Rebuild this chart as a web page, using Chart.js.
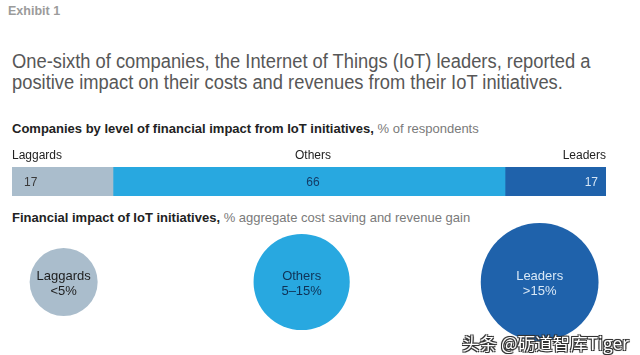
<!DOCTYPE html>
<html><head><meta charset="utf-8">
<script src="https://cdn.jsdelivr.net/npm/chart.js@4"></script>
<style>
html,body{margin:0;padding:0;background:#fff;width:640px;height:355px;overflow:hidden;font-family:"Liberation Sans",Arial,Helvetica,sans-serif;}
#wrap{position:relative;width:640px;height:355px;}
.t{position:absolute;white-space:nowrap;}
#exhibit{left:8px;top:4px;font-size:12.5px;font-weight:bold;color:#9b9b9b;}
#title{left:12px;top:51px;font-size:19.5px;color:#575757;line-height:21px;transform:scaleX(0.94);transform-origin:0 0;}
#sub1{left:12px;top:121px;font-size:13px;color:#222;}
#sub2{left:12px;top:210px;font-size:13px;color:#222;}
.b{font-weight:bold;}
.g{color:#7a7a7a;}
#barBox{position:absolute;left:0;top:140px;width:640px;height:70px;}
#bubBox{position:absolute;left:0;top:210px;width:640px;height:144px;}
#wm{left:462px;top:330px;font-family:"Noto Sans CJK SC",sans-serif;font-size:17.5px;color:#fff;
  text-shadow:-1px -1px 0 #333,1px -1px 0 #333,-1px 1px 0 #333,1px 1px 0 #333,0 0 2px #000;}
</style></head>
<body><div id="wrap">
<div class="t" id="exhibit">Exhibit 1</div>
<div class="t" id="title">One-sixth of companies, the Internet of Things (IoT) leaders, reported a<br>positive impact on their costs and revenues from their IoT initiatives.</div>
<div class="t" id="sub1"><span class="b">Companies by level of financial impact from IoT initiatives,</span> <span class="g">% of respondents</span></div>
<div id="barBox"><canvas id="bar"></canvas></div>
<div class="t" id="sub2"><span class="b">Financial impact of IoT initiatives,</span> <span class="g">% aggregate cost saving and revenue gain</span></div>
<div id="bubBox"><canvas id="bub"></canvas></div>
<div class="t" id="wm">头条 @砺道智库Tiger</div>
</div>
<script>
// ---- data ----
const categories = ['Laggards', 'Others', 'Leaders'];
const shareOfRespondents = [17, 66, 17];          // % of respondents
const impactRanges = ['<5%', '5–15%', '>15%'];    // % aggregate cost saving and revenue gain
const impactBubbleArea = [1, 2, 3];                // relative bubble area
// ---- styles ----
const fills = ['#aabdcc', '#28a8e0', '#1f62ab'];
const nameColors = ['#222222', '#222222', '#222222'];
const valueColors = ['#3a3a3a', '#143c66', '#d6e6f5'];
const bubbleTextColors = ['#1e1e1e', '#0f3256', '#d9e8f6'];
const FONT = '"Liberation Sans", Arial, Helvetica, sans-serif';

// ---- stacked bar ----
const barLabelPlugin = {
  id: 'barLabels',
  afterDatasetsDraw(chart) {
    const ctx = chart.ctx;
    ctx.save();
    ctx.textBaseline = 'middle';
    chart.data.datasets.forEach((ds, i) => {
      const el = chart.getDatasetMeta(i).data[0];
      const left = Math.min(el.base, el.x), right = Math.max(el.base, el.x);
      const cy = el.y;
      const top = cy - el.height / 2;
      let align, nx, vx;
      if (i === 0) { align = 'left'; nx = left; vx = left + 12; }
      else if (i === chart.data.datasets.length - 1) { align = 'right'; nx = right; vx = right - 8; }
      else { align = 'center'; nx = (left + right) / 2 + 4; vx = (left + right) / 2 + 4; }
      ctx.textAlign = align;
      ctx.font = '12px ' + FONT;
      ctx.fillStyle = nameColors[i];
      ctx.fillText(ds.label, nx, top - 11);
      ctx.fillStyle = valueColors[i];
      ctx.fillText(String(ds.data[0]), vx, cy + 1);
    });
    ctx.restore();
  }
};

new Chart(document.getElementById('bar'), {
  type: 'bar',
  data: {
    labels: ['Companies'],
    datasets: categories.map((c, i) => ({
      label: c, data: [shareOfRespondents[i]], backgroundColor: fills[i],
      borderWidth: 0, barPercentage: 1, categoryPercentage: 1
    }))
  },
  options: {
    indexAxis: 'y', responsive: true, maintainAspectRatio: false, animation: false,
    layout: { padding: { left: 12, right: 34, top: 27, bottom: 14 } },
    plugins: { legend: { display: false }, tooltip: { enabled: false } },
    scales: {
      x: { stacked: true, min: 0, max: 100, display: false },
      y: { stacked: true, display: false }
    }
  },
  plugins: [barLabelPlugin]
});

// ---- bubbles ----
const cumStart = shareOfRespondents.map((v, i) => shareOfRespondents.slice(0, i).reduce((a, b) => a + b, 0));
const bubblePoints = categories.map((c, i) => ({ x: cumStart[i] + shareOfRespondents[i] / 2, y: 0, area: impactBubbleArea[i] }));
const BASE_R = 34;

const bubbleLabelPlugin = {
  id: 'bubbleLabels',
  afterDatasetsDraw(chart) {
    const ctx = chart.ctx;
    ctx.save();
    ctx.textAlign = 'center';
    ctx.textBaseline = 'middle';
    chart.getDatasetMeta(0).data.forEach((el, i) => {
      ctx.fillStyle = bubbleTextColors[i];
      ctx.font = '13px ' + FONT;
      ctx.fillText(categories[i], el.x, el.y - 6);
      ctx.fillText(impactRanges[i], el.x, el.y + 9);
    });
    ctx.restore();
  }
};

new Chart(document.getElementById('bub'), {
  type: 'bubble',
  data: {
    datasets: [{
      data: bubblePoints,
      backgroundColor: fills, borderWidth: 0, clip: false,
      radius: (c) => BASE_R * Math.sqrt(c.raw.area),
      hoverRadius: 0
    }]
  },
  options: {
    responsive: true, maintainAspectRatio: false, animation: false,
    layout: { autoPadding: false, padding: 0 },
    plugins: { legend: { display: false }, tooltip: { enabled: false } },
    scales: {
      x: { type: 'linear', min: -2.6, max: 109, display: false },
      y: { type: 'linear', min: -1, max: 1, display: false }
    }
  },
  plugins: [bubbleLabelPlugin]
});
</script>
</body></html>
